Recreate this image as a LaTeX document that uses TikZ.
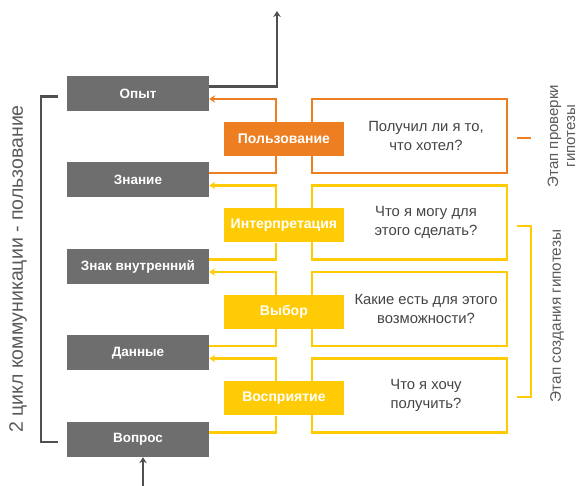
\documentclass[tikz,border=0pt]{standalone}
\usepackage{fontspec}
\setmainfont{Liberation Sans}
\usetikzlibrary{calc}
\usetikzlibrary{arrows.meta}
\usetikzlibrary{positioning}
\definecolor{boxgray}{HTML}{6E6E6E}
\definecolor{linegray}{HTML}{505050}
\definecolor{sidegray}{HTML}{5A5A5A}
\definecolor{orng}{HTML}{EE7E22}
\definecolor{yllw}{HTML}{FFCB05}
\definecolor{txtgray}{HTML}{444444}
\tikzset{gbox/.style={fill=boxgray,text=white,inner sep=0pt,minimum width=142pt,minimum height=35pt,font=\bfseries\fontsize{13.5}{15}\selectfont}}

\begin{document}
\begin{tikzpicture}[x=1pt,y=-1pt,>={Stealth[length=6pt,width=7.5pt]}]
\tikzset{sbox/.style={text=white,inner sep=0pt,minimum width=120pt,minimum height=34pt,font=\bfseries\fontsize{14}{15}\selectfont},
  qbox/.style={draw,line width=2.2pt,fill=white,inner sep=0pt,minimum width=195pt,minimum height=74pt},
  qtext/.style={text=txtgray,align=center,font=\fontsize{14.8}{19}\selectfont},
  conn/.style={line width=2.2pt},
  dline/.style={line width=2.2pt,draw=linegray}}
\useasboundingbox (0,0) rectangle (579,486);

\foreach \i/\t in {0/Опыт,1/Знание,2/Знак внутренний,3/Данные,4/Вопрос} {
	\node[gbox] (G\i) at (138,93.5+86.5*\i) {\t};
}

\foreach \i/\c/\s/\t in {1/orng/Пользование/{Получил ли я то,\\что хотел?},
                         2/yllw/Интерпретация/{Что я могу для\\этого сделать?},
                         3/yllw/Выбор/{Какие есть для этого\\возможности?},
                         4/yllw/Восприятие/{Что я хочу\\получить?}} {
	\node[qbox,draw=\c] (Q\i) at (409.5,136+86.5*\i-86.5) {};
	\node[sbox,fill=\c] (S\i) at ($ (Q\i.west) + (-27,3) $) {\s};
	\node[qtext] (T\i) at ($ (Q\i) + (16.5,0) $) {\t};
}

\foreach \i/\j/\c in {1/0/orng,2/1/yllw,3/2/yllw,4/3/yllw} {
	\draw[conn,draw=\c,->] ([xshift=-8pt]S\i.north) |- ([yshift=-5.5pt]G\j.east);
	\draw[conn,draw=\c] ([yshift=7pt]G\i.east) -| ([xshift=-8pt]S\i.south);
}

\coordinate (out) at (277,11);
\coordinate (in) at (143,486);
\draw[dline,->] ([yshift=7pt]G0.east) -| (out);
\draw[dline,->] (in) -- (in |- G4.south);

% left bracket
\draw[dline] ([xshift=-9pt,yshift=-3pt]G0.west) -- ++(-17,0) |- ([xshift=-9pt,yshift=-2.5pt]G4.west);
\node[rotate=90,text=sidegray,font=\fontsize{19.5}{22}\selectfont] (cycle) at (18,269) {2 цикл коммуникации - пользование};

% right side
\draw[conn,draw=orng] (517,138) -- (531,138);
\node[rotate=90,align=center,text=sidegray,font=\fontsize{15}{17}\selectfont] (check) at (561.5,136) {Этап проверки\\гипотезы};
\draw[conn,draw=yllw] (517,226) -- (531,226) -- (531,397) -- (517,397);
\node[rotate=90,text=sidegray,font=\fontsize{15.3}{18}\selectfont] (create) at (557,316) {Этап создания гипотезы};
\end{tikzpicture}
\end{document}
